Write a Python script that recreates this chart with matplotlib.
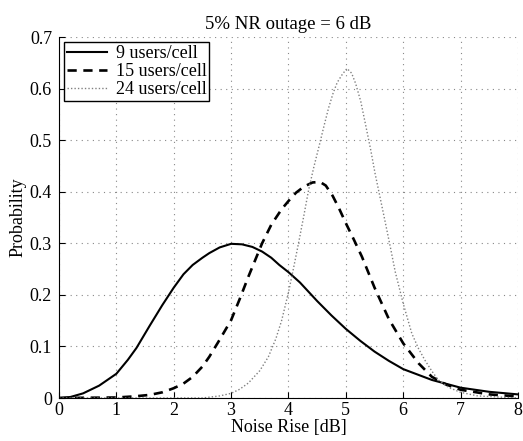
import matplotlib
matplotlib.use("Agg")
import matplotlib.pyplot as plt

plt.rcParams['font.family'] = ['Liberation Serif', 'DejaVu Serif']

# values
x_9 = [0.0, 0.2, 0.42, 0.7, 1.0, 1.2, 1.35, 1.58, 1.8, 2.0, 2.17, 2.33, 2.5, 2.62,
       2.8, 3.0, 3.19, 3.37, 3.54, 3.7, 3.84, 4.0, 4.2, 4.5, 4.75, 5.0, 5.25, 5.5,
       5.75, 6.0, 6.5, 7.0, 7.5, 8.0]
y_9 = [0.0, 0.002, 0.009, 0.024, 0.047, 0.074, 0.097, 0.140, 0.180, 0.214, 0.240,
       0.258, 0.272, 0.281, 0.292, 0.299, 0.298, 0.293, 0.284, 0.272, 0.258, 0.244,
       0.224, 0.188, 0.160, 0.134, 0.111, 0.090, 0.072, 0.056, 0.035, 0.020, 0.012,
       0.007]

x_15 = [0.0, 1.0, 1.3, 1.58, 1.8, 2.0, 2.17, 2.33, 2.5, 2.62, 2.8, 3.0, 3.15, 3.3,
        3.54, 3.7, 3.88, 4.0, 4.13, 4.27, 4.42, 4.55, 4.65, 4.77, 4.88, 5.0, 5.14,
        5.28, 5.5, 5.75, 6.0, 6.27, 6.5, 6.75, 7.0, 7.5, 8.0]
y_15 = [0.0, 0.001, 0.003, 0.006, 0.011, 0.019, 0.028, 0.041, 0.061, 0.080, 0.113,
        0.151, 0.192, 0.235, 0.300, 0.336, 0.366, 0.382, 0.398, 0.410, 0.418, 0.419,
        0.412, 0.392, 0.368, 0.339, 0.307, 0.274, 0.214, 0.153, 0.106, 0.067, 0.041,
        0.026, 0.016, 0.007, 0.003]

x_24 = [0.0, 2.5, 2.8, 3.0, 3.15, 3.3, 3.5, 3.65, 3.78, 3.88, 4.0, 4.09, 4.18,
        4.27, 4.35, 4.44, 4.53, 4.62, 4.7, 4.78, 4.85, 4.94, 5.02, 5.1, 5.17, 5.26,
        5.34, 5.43, 5.51, 5.6, 5.69, 5.78, 5.86, 6.0, 6.15, 6.27, 6.38, 6.5, 6.61,
        6.8, 7.0, 7.3, 8.0]
y_24 = [0.0, 0.0, 0.004, 0.009, 0.017, 0.029, 0.053, 0.080, 0.115, 0.150, 0.205,
        0.253, 0.303, 0.355, 0.403, 0.447, 0.487, 0.528, 0.563, 0.592, 0.612, 0.628,
        0.639, 0.630, 0.610, 0.575, 0.532, 0.483, 0.435, 0.387, 0.339, 0.290, 0.245,
        0.183, 0.125, 0.095, 0.073, 0.052, 0.035, 0.020, 0.011, 0.004, 0.0]

labels = ['9 users/cell', '15 users/cell', '24 users/cell']

fig = plt.figure(figsize=(5.23, 4.41), dpi=100)
ax = fig.add_axes([0.1128, 0.0975, 0.8776, 0.8185])

ax.plot(x_9, y_9, color='black', linewidth=1.5, linestyle='-', label=labels[0])
ax.plot(x_15, y_15, color='black', linewidth=1.9, linestyle=(0, (3.5, 2.5)), label=labels[1])
ax.plot(x_24, y_24, color='#808080', linewidth=1.0, linestyle=(0, (1, 1.5)), label=labels[2])

ax.set_xlim(0, 8)
ax.set_ylim(0, 0.7)
ax.set_xticks(range(0, 9))
ax.set_yticks([0, 0.1, 0.2, 0.3, 0.4, 0.5, 0.6, 0.7])
ax.set_yticklabels(['0', '0.1', '0.2', '0.3', '0.4', '0.5', '0.6', '0.7'])
ax.tick_params(direction='in', labelsize=13, length=4)
ax.tick_params(axis='x', pad=3)
ax.tick_params(axis='y', pad=5)
ax.grid(True, color='#888888', linestyle=(0, (1, 4)), linewidth=0.8)
ax.spines['top'].set_visible(False)
ax.spines['right'].set_visible(False)

ax.set_xlabel('Noise Rise [dB]', fontsize=13, labelpad=0)
ax.set_ylabel('Probability', fontsize=13, labelpad=2)
ax.set_title('5% NR outage = 6 dB', fontsize=13.5, pad=6)

leg = ax.legend(loc='upper left', fontsize=13, fancybox=False, framealpha=1,
                edgecolor='black', handlelength=2.2, borderpad=0.15,
                labelspacing=0.05, handletextpad=0.5, borderaxespad=0.3)
leg.get_frame().set_linewidth(1.0)

fig.savefig('out.png', dpi=100)
